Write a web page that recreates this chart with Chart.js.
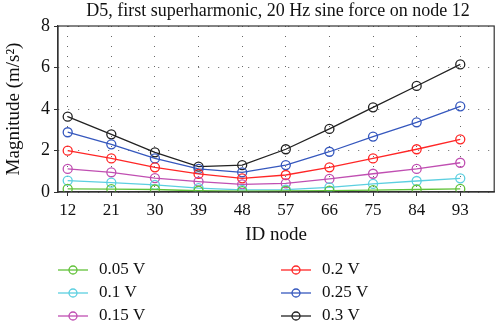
<!DOCTYPE html>
<html>
<head>
<meta charset="utf-8">
<script src="https://cdn.jsdelivr.net/npm/chart.js@4"></script>
<style>
  html, body { margin: 0; padding: 0; background: #fff; }
  #wrap { width: 500px; height: 328px; }
</style>
</head>
<body>
<div id="wrap"><canvas id="chart" width="500" height="328"></canvas></div>
<script>
// ID nodes along the x axis
const nodes = [12, 21, 30, 39, 48, 57, 66, 75, 84, 93];
const yTicks = [0, 2, 4, 6, 8];

// magnitude (m/s^2) for each voltage
const v005 = [0.15, 0.14, 0.12, 0.06, 0.04, 0.05, 0.07, 0.09, 0.12, 0.15];
const v010 = [0.55, 0.45, 0.34, 0.19, 0.10, 0.11, 0.22, 0.39, 0.53, 0.66];
const v015 = [1.11, 0.95, 0.67, 0.50, 0.37, 0.42, 0.63, 0.88, 1.11, 1.41];
const v020 = [1.99, 1.62, 1.19, 0.87, 0.66, 0.82, 1.19, 1.62, 2.06, 2.54];
const v025 = [2.88, 2.30, 1.62, 1.11, 0.95, 1.30, 1.94, 2.67, 3.36, 4.13];
const v030 = [3.63, 2.78, 1.91, 1.22, 1.30, 2.06, 3.04, 4.08, 5.11, 6.15];

const labels = ['0.05 V', '0.1 V', '0.15 V', '0.2 V', '0.25 V', '0.3 V'];
const series = [v005, v010, v015, v020, v025, v030];
const colors = ['#62c23a', '#5ccfe0', '#c04fb2', '#ff2626', '#3658be', '#222222'];

const titleText = 'D5, first superharmonic, 20 Hz sine force on node 12';
const serif = "'Liberation Serif', 'DejaVu Serif', serif";

const datasets = series.map((vals, i) => ({
    label: labels[i],
    data: vals.map((v, j) => ({ x: nodes[j], y: v })),
    borderColor: colors[i],
    borderWidth: 1.3,
    pointRadius: 4.5,
    pointBorderWidth: 1.3,
    pointBackgroundColor: 'rgba(255,255,255,0)',
    pointBorderColor: colors[i],
    tension: 0
}));

// рамка вокруг области графика и заголовок над ней
const boxPlugin = {
    id: 'box',
    afterDraw(chart) {
        const a = chart.chartArea;
        const ctx = chart.ctx;
        ctx.save();
        ctx.strokeStyle = '#333';
        ctx.lineWidth = 1.2;
        ctx.strokeRect(a.left, a.top, a.right - a.left, a.bottom - a.top);
        ctx.fillStyle = '#111';
        ctx.font = '18px ' + serif;
        ctx.textAlign = 'center';
        ctx.textBaseline = 'middle';
        ctx.fillText(titleText, 278, 11);
        ctx.restore();
    }
};

// легенда в две колонки
const legendPlugin = {
    id: 'twoColLegend',
    afterDraw(chart) {
        const ctx = chart.ctx;
        const cols = [58, 281];
        const rows = [270, 293, 316];
        ctx.save();
        chart.data.datasets.forEach((ds, i) => {
            const x = cols[Math.floor(i / 3)];
            const y = rows[i % 3];
            ctx.strokeStyle = ds.borderColor;
            ctx.lineWidth = 1.3;
            ctx.beginPath();
            ctx.moveTo(x, y);
            ctx.lineTo(x + 30, y);
            ctx.stroke();
            ctx.beginPath();
            ctx.arc(x + 15, y, 4, 0, Math.PI * 2);
            ctx.stroke();
            ctx.fillStyle = '#111';
            ctx.font = '17px ' + serif;
            ctx.textBaseline = 'middle';
            ctx.textAlign = 'left';
            ctx.fillText(ds.label, x + 41, y);
        });
        ctx.restore();
    }
};

new Chart(document.getElementById('chart'), {
    type: 'line',
    data: { datasets: datasets },
    options: {
        responsive: false,
        animation: false,
        layout: { padding: { left: 0, right: 4, top: 26, bottom: 82 } },
        plugins: {
            legend: { display: false },
            tooltip: { enabled: false },
            title: { display: false }
        },
        scales: {
            x: {
                type: 'linear',
                min: 10,
                max: 100,
                afterBuildTicks: (scale) => { scale.ticks = nodes.map(v => ({ value: v })); },
                afterFit: (scale) => { scale.height = 54; },
                ticks: {
                    color: '#111',
                    font: { family: serif, size: 17 },
                    padding: 4,
                    maxRotation: 0,
                    autoSkip: false
                },
                grid: { color: '#666', lineWidth: 1, tickLength: 4, tickColor: '#333' },
                border: { display: true, color: '#333', width: 1.2, dash: [1, 9] },
                title: {
                    display: true,
                    text: 'ID node',
                    color: '#111',
                    font: { family: serif, size: 19 },
                    padding: { top: 0, bottom: 0 }
                }
            },
            y: {
                min: 0,
                max: 8,
                afterBuildTicks: (scale) => { scale.ticks = yTicks.map(v => ({ value: v })); },
                afterFit: (scale) => { scale.width = 58; },
                ticks: {
                    color: '#111',
                    font: { family: serif, size: 18 },
                    padding: 4
                },
                grid: { color: '#666', lineWidth: 1, tickLength: 4, tickColor: '#333' },
                border: { display: true, color: '#333', width: 1.2, dash: [1, 9] },
                title: {
                    display: true,
                    text: 'Magnitude (m/s²)',
                    color: '#111',
                    font: { family: serif, size: 19 },
                    padding: { top: 3, bottom: 0 }
                }
            }
        }
    },
    plugins: [boxPlugin, legendPlugin]
});
</script>
</body>
</html>
